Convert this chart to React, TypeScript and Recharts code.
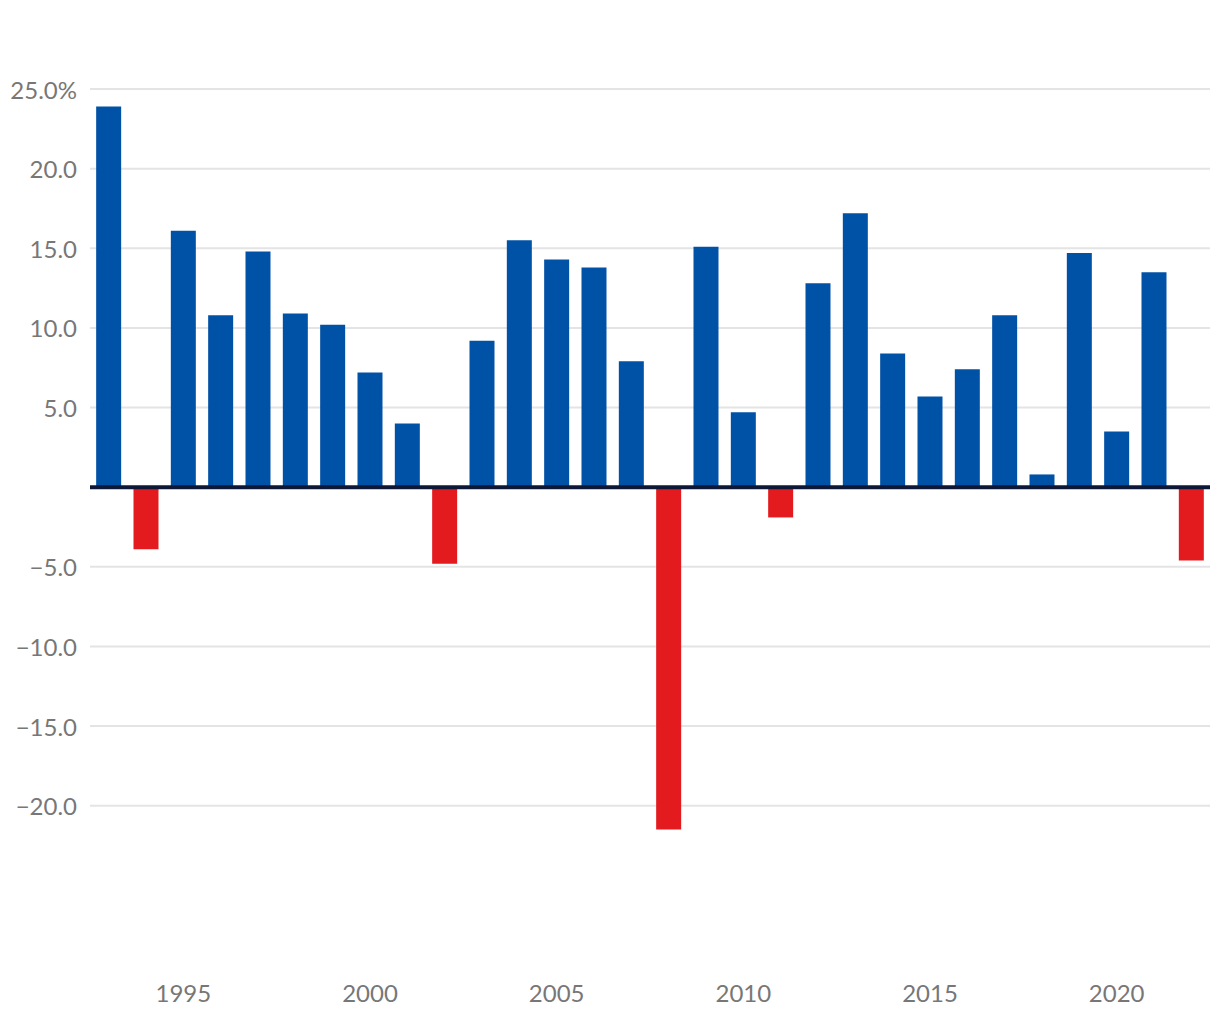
import { BarChart, Bar, XAxis, YAxis, CartesianGrid, ReferenceLine, Cell } from "recharts";

const years = [
  1993, 1994, 1995, 1996, 1997, 1998, 1999, 2000, 2001, 2002,
  2003, 2004, 2005, 2006, 2007, 2008, 2009, 2010, 2011, 2012,
  2013, 2014, 2015, 2016, 2017, 2018, 2019, 2020, 2021, 2022,
];
const returns = [
  23.9, -3.9, 16.1, 10.8, 14.8, 10.9, 10.2, 7.2, 4.0, -4.8,
  9.2, 15.5, 14.3, 13.8, 7.9, -21.5, 15.1, 4.7, -1.9, 12.8,
  17.2, 8.4, 5.7, 7.4, 10.8, 0.8, 14.7, 3.5, 13.5, -4.6,
];
const yTicks = [-20, -15, -10, -5, 5, 10, 15, 20, 25];
const xTicks = [1995, 2000, 2005, 2010, 2015, 2020];

const data = years.map((year, i) => ({ year, value: returns[i] }));

const FONT = "Lato, 'Open Sans', sans-serif";
const BLUE = "#0052a6";
const RED = "#e31b1e";

const YTick = (props: any) => {
  const { y, payload } = props;
  const v = payload.value as number;
  let label = Math.abs(v).toFixed(1);
  if (v < 0) label = "\u2212" + label;
  if (v === 25) label += "%";
  return (
    <text x={77} y={y} textAnchor="end" dominantBaseline="central" fill="#777" fontSize={24} fontFamily={FONT}>
      {label}
    </text>
  );
};

const XTick = (props: any) => {
  const { x, y, payload } = props;
  if (!xTicks.includes(payload.value)) return null;
  return (
    <text x={x} y={y + 19} textAnchor="middle" dominantBaseline="central" fill="#777" fontSize={24} fontFamily={FONT}>
      {payload.value}
    </text>
  );
};

export default function App() {
  return (
    <div style={{ margin: -8, width: 1220, height: 1020, background: "#fff" }}>
      <BarChart
        width={1220}
        height={1020}
        data={data}
        margin={{ top: 89, right: 10, left: 0, bottom: 0 }}
        barCategoryGap="16.5%"
      >
        <CartesianGrid vertical={false} horizontalValues={yTicks} stroke="#e4e4e4" strokeWidth={2} />
        <XAxis
          dataKey="year"
          interval={0}
          tick={<XTick />}
          tickLine={false}
          axisLine={false}
          height={55}
        />
        <YAxis
          domain={[-30, 25]}
          ticks={yTicks}
          tick={<YTick />}
          tickLine={false}
          axisLine={false}
          width={90}
          allowDataOverflow
        />
        <Bar dataKey="value" isAnimationActive={false}>
          {data.map((d) => (
            <Cell key={d.year} fill={d.value < 0 ? RED : BLUE} />
          ))}
        </Bar>
        <ReferenceLine y={0} stroke="#0d1836" strokeWidth={4} />
      </BarChart>
    </div>
  );
}
